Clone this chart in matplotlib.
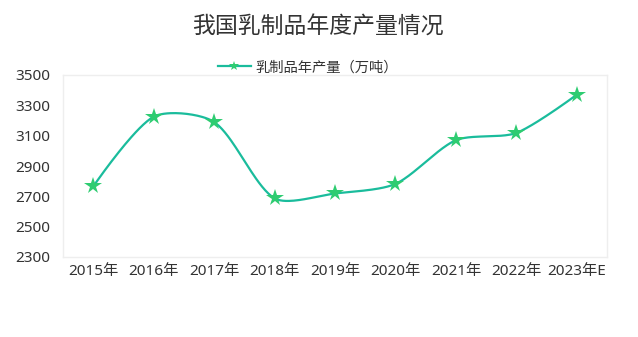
import numpy as np
import matplotlib
matplotlib.use("Agg")
import matplotlib.pyplot as plt
from matplotlib.lines import Line2D

plt.rcParams['font.family'] = ['Noto Sans CJK SC', 'DejaVu Sans']

categories = ["2015年", "2016年", "2017年", "2018年", "2019年", "2020年", "2021年", "2022年", "2023年E"]
values = [2765, 3225, 3190, 2687, 2719, 2782, 3070, 3118, 3370]
yticks = [2300, 2500, 2700, 2900, 3100, 3300, 3500]
title = "我国乳制品年度产量情况"
series_name = "乳制品年产量（万吨）"

LINE_C = "#1abc9c"
STAR_C = "#2ecc71"
TEXT_C = "#333333"
TICK_FONT = ['Noto Sans', 'Noto Sans CJK SC']

W, H = 638, 337
fig = plt.figure(figsize=(W / 100, H / 100), dpi=100)
L, R, T, B = 63, 607, 75, 257
ax = fig.add_axes([L / W, 1 - B / H, (R - L) / W, (B - T) / H])

ax.set_xlim(-0.5, len(categories) - 0.5)
ax.set_ylim(yticks[0], yticks[-1])

# smoothing in pixel space (bezier spline)
sx = (R - L) / len(categories)
sy = (B - T) / (yticks[-1] - yticks[0])
px = np.arange(len(values)) * sx
py = np.array(values, dtype=float) * sy
pts = np.column_stack([px, py])
smooth = 0.27
cps = []
n = len(pts)
for i in range(n):
    if i == 0 or i == n - 1:
        cps.append((pts[i].copy(), pts[i].copy()))
        continue
    v = (pts[i + 1] - pts[i - 1]) * smooth
    d0 = np.linalg.norm(pts[i] - pts[i - 1])
    d1 = np.linalg.norm(pts[i + 1] - pts[i])
    s = d0 + d1
    cps.append((pts[i] - v * d0 / s, pts[i] + v * d1 / s))
curve = []
tt = np.linspace(0, 1, 40)[:, None]
for i in range(n - 1):
    p0 = pts[i]
    c0 = cps[i][1]
    c1 = cps[i + 1][0]
    p1 = pts[i + 1]
    seg = (1 - tt) ** 3 * p0 + 3 * (1 - tt) ** 2 * tt * c0 + 3 * (1 - tt) * tt ** 2 * c1 + tt ** 3 * p1
    curve.append(seg if i == 0 else seg[1:])
curve = np.vstack(curve)
ax.plot(curve[:, 0] / sx, curve[:, 1] / sy, color=LINE_C, lw=1.6, solid_capstyle='round', zorder=2)
ax.plot(range(len(values)), values, ls='none', marker='*', markersize=13,
        color=STAR_C, markeredgewidth=0, zorder=3)

ax.set_xticks(range(len(categories)))
ax.set_xticklabels(categories)
ax.set_yticks(yticks)
ax.tick_params(length=0, labelsize=11, colors=TEXT_C, pad=9)
ax.tick_params(axis='x', pad=5)
for lab in ax.get_xticklabels() + ax.get_yticklabels():
    lab.set_family(TICK_FONT)
for sp in ax.spines.values():
    sp.set_color("#eeeeee")
    sp.set_linewidth(1)

fig.text(318 / W, 1 - 27 / H, title, ha='center', va='center', fontsize=16.5, color=TEXT_C)

handle = Line2D([], [], color=LINE_C, lw=1.6, marker='*', markersize=7,
                markerfacecolor=STAR_C, markeredgewidth=0)
fig.legend([handle], [series_name], loc='center', bbox_to_anchor=(308 / W, 1 - 68 / H),
           frameon=False, prop={'family': TICK_FONT, 'size': 10.3}, handlelength=2.3,
           handletextpad=0.35, labelcolor=TEXT_C, borderpad=0)

fig.savefig("out.png", dpi=100)
